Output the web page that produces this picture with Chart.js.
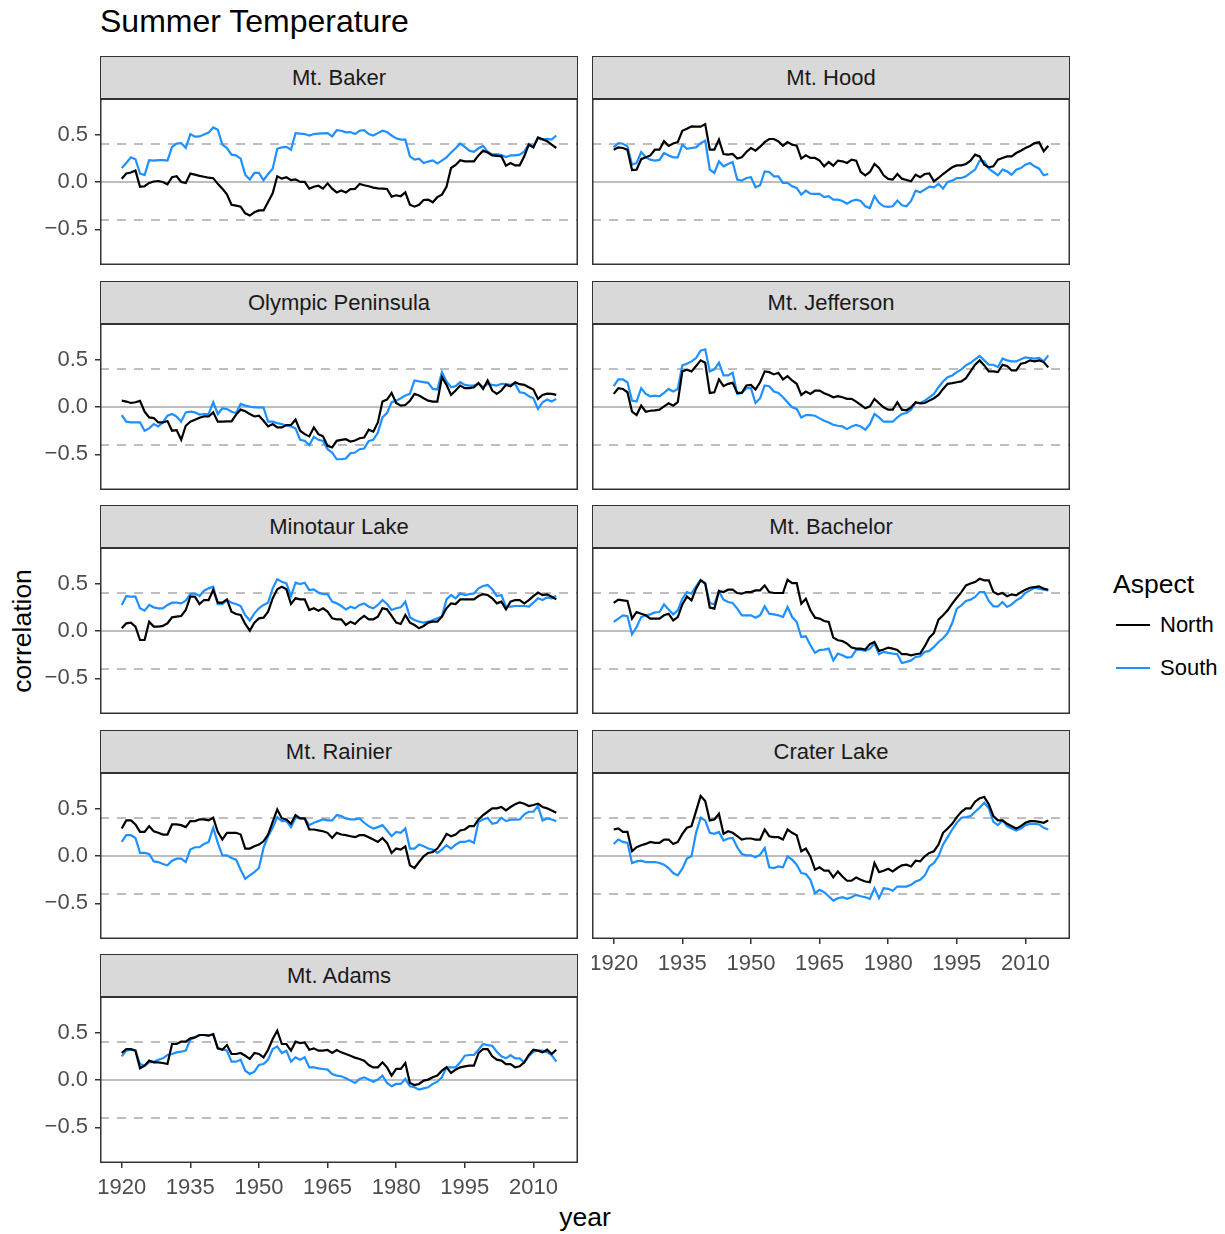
<!DOCTYPE html>
<html>
<head>
<meta charset="utf-8">
<script src="https://cdn.jsdelivr.net/npm/chart.js@4.4.0/dist/chart.umd.min.js"></script>
<style>
  body { margin: 0; background: #fff; font-family: "Liberation Sans", Arial, sans-serif; }
  #page { position: relative; width: 1225px; height: 1234px; overflow: hidden; background: #fff; }
  .strip { position: absolute; box-sizing: border-box; background: #D9D9D9; border: 1.5px solid #333333;
           color: #1A1A1A; font-size: 22px; text-align: center; line-height: 41px; white-space: nowrap; }
  canvas { position: absolute; }
  .title { position: absolute; left: 100px; top: 2px; font-size: 32px; line-height: 38px; color: #000; white-space: nowrap; }
  .ytitle { position: absolute; left: 22px; top: 631px; font-size: 26.5px; color: #000; white-space: nowrap;
            transform: translate(-50%, -50%) rotate(-90deg); }
  .xtitle { position: absolute; left: 585px; top: 1217px; font-size: 26.5px; color: #000; white-space: nowrap;
            transform: translate(-50%, -50%); }
  .lgTitle { position: absolute; left: 1113px; top: 584px; font-size: 26.5px; color: #000; transform: translateY(-50%); white-space: nowrap; }
  .lgKey { position: absolute; left: 1116px; width: 34px; height: 2px; }
  .lgLabel { position: absolute; left: 1160px; font-size: 22px; color: #000; transform: translateY(-50%); white-space: nowrap; }
</style>
</head>
<body>
<div id="page">
  <div class="title">Summer Temperature</div>
  <div class="ytitle">correlation</div>
  <div class="xtitle">year</div>
  <div class="lgTitle">Aspect</div>
  <div class="lgKey" style="top:624px;background:#000000"></div>
  <div class="lgLabel" style="top:625px">North</div>
  <div class="lgKey" style="top:667px;background:#1E90FF"></div>
  <div class="lgLabel" style="top:668px">South</div>
</div>
<script>
// ---- data -------------------------------------------------------------
const years = [1920,1921,1922,1923,1924,1925,1926,1927,1928,1929,1930,1931,1932,1933,1934,1935,1936,1937,1938,1939,
  1940,1941,1942,1943,1944,1945,1946,1947,1948,1949,1950,1951,1952,1953,1954,1955,1956,1957,1958,1959,
  1960,1961,1962,1963,1964,1965,1966,1967,1968,1969,1970,1971,1972,1973,1974,1975,1976,1977,1978,1979,
  1980,1981,1982,1983,1984,1985,1986,1987,1988,1989,1990,1991,1992,1993,1994,1995,1996,1997,1998,1999,
  2000,2001,2002,2003,2004,2005,2006,2007,2008,2009,2010,2011,2012,2013,2014,2015];

const panelNames = ["Mt. Baker", "Mt. Hood", "Olympic Peninsula", "Mt. Jefferson", "Minotaur Lake",
                    "Mt. Bachelor", "Mt. Rainier", "Crater Lake", "Mt. Adams"];
const aspects = ["North", "South"];
const yTicks = [-0.5, 0, 0.5];
const xTicks = [1920, 1935, 1950, 1965, 1980, 1995, 2010];
const refLevels = [0, 0.4, -0.4];

const bakerNorth = [0.035,0.09,0.10,0.12,-0.05,-0.045,-0.01,0.005,0.01,0.0,-0.025,0.05,0.06,0.0,-0.01,0.088,0.078,0.065,0.055,0.045,
  0.04,-0.02,-0.07,-0.13,-0.24,-0.25,-0.26,-0.33,-0.354,-0.32,-0.30,-0.30,-0.21,-0.12,0.06,0.035,0.05,0.02,0.028,0.0,
  0.0,-0.07,-0.05,-0.04,-0.07,-0.015,-0.07,-0.11,-0.09,-0.11,-0.075,-0.074,-0.022,-0.035,-0.045,-0.06,-0.068,-0.07,-0.074,-0.154,
  -0.14,-0.15,-0.11,-0.24,-0.26,-0.24,-0.19,-0.186,-0.214,-0.16,-0.133,-0.05,0.147,0.18,0.23,0.218,0.218,0.218,0.28,0.33,
  0.31,0.28,0.275,0.27,0.172,0.2,0.175,0.175,0.27,0.393,0.365,0.47,0.45,0.43,0.393,0.358];
const bakerSouth = [0.147,0.20,0.26,0.24,0.09,0.072,0.23,0.225,0.23,0.23,0.225,0.37,0.405,0.41,0.36,0.505,0.477,0.48,0.50,0.52,
  0.575,0.55,0.393,0.358,0.288,0.28,0.245,0.077,0.025,0.095,0.095,0.018,0.084,0.14,0.35,0.365,0.37,0.34,0.515,0.51,
  0.505,0.49,0.505,0.51,0.512,0.515,0.48,0.545,0.54,0.523,0.526,0.505,0.54,0.547,0.505,0.49,0.515,0.54,0.526,0.49,
  0.46,0.446,0.446,0.27,0.235,0.246,0.2,0.215,0.228,0.195,0.225,0.26,0.31,0.355,0.405,0.37,0.33,0.318,0.355,0.38,
  0.32,0.29,0.293,0.283,0.262,0.28,0.28,0.288,0.32,0.4,0.375,0.46,0.446,0.455,0.446,0.49];

const hoodNorth = [0.34,0.365,0.358,0.34,0.125,0.13,0.24,0.26,0.28,0.34,0.34,0.43,0.38,0.405,0.42,0.54,0.56,0.585,0.583,0.583,
  0.61,0.34,0.34,0.446,0.295,0.288,0.295,0.246,0.26,0.316,0.358,0.33,0.372,0.42,0.453,0.453,0.428,0.382,0.42,0.393,
  0.382,0.246,0.28,0.253,0.253,0.225,0.165,0.21,0.172,0.225,0.218,0.2,0.235,0.225,0.105,0.07,0.105,0.19,0.147,0.07,
  0.032,0.025,0.084,0.035,0.021,0.007,0.077,0.05,0.084,0.09,0.007,0.042,0.084,0.12,0.155,0.175,0.175,0.19,0.225,0.288,
  0.27,0.182,0.155,0.165,0.235,0.253,0.27,0.27,0.305,0.33,0.358,0.38,0.41,0.418,0.323,0.382];
const hoodSouth = [0.365,0.41,0.403,0.375,0.182,0.2,0.316,0.26,0.235,0.225,0.232,0.305,0.28,0.26,0.26,0.393,0.35,0.358,0.365,0.41,
  0.435,0.13,0.095,0.218,0.165,0.19,0.21,0.025,0.014,0.042,0.05,-0.056,-0.035,0.112,0.105,0.06,0.06,-0.01,-0.01,-0.046,
  -0.063,-0.133,-0.091,-0.123,-0.126,-0.126,-0.16,-0.15,-0.186,-0.186,-0.2,-0.23,-0.2,-0.186,-0.2,-0.256,-0.274,-0.15,-0.22,-0.256,
  -0.263,-0.256,-0.196,-0.245,-0.256,-0.2,-0.091,-0.109,-0.081,-0.049,-0.056,-0.021,-0.07,0,0.014,0.042,0.042,0.06,0.095,0.13,
  0.225,0.218,0.14,0.105,0.07,0.13,0.112,0.077,0.13,0.147,0.182,0.2,0.165,0.14,0.07,0.084];

const olympicNorth = [0.067,0.057,0.042,0.05,0.064,-0.05,-0.11,-0.117,-0.163,-0.163,-0.148,-0.25,-0.244,-0.346,-0.198,-0.155,-0.134,-0.113,-0.1,-0.1,
  -0.057,-0.155,-0.155,-0.152,-0.152,-0.08,-0.028,-0.046,-0.074,-0.1,-0.092,-0.145,-0.205,-0.18,-0.216,-0.216,-0.19,-0.19,-0.134,-0.25,
  -0.286,-0.31,-0.216,-0.286,-0.31,-0.41,-0.427,-0.357,-0.346,-0.34,-0.364,-0.353,-0.33,-0.322,-0.24,-0.26,-0.163,0.057,0.078,0.148,
  0.042,0.014,0.021,0.064,0.138,0.12,0.092,0.067,0.057,0.057,0.314,0.233,0.127,0.173,0.226,0.198,0.198,0.208,0.254,0.19,
  0.279,0.173,0.138,0.173,0.233,0.219,0.261,0.24,0.233,0.208,0.184,0.085,0.127,0.141,0.138,0.127];
const olympicSouth = [-0.085,-0.155,-0.163,-0.163,-0.163,-0.25,-0.226,-0.18,-0.205,-0.163,-0.092,-0.074,-0.102,-0.155,-0.057,-0.05,-0.057,-0.08,-0.074,-0.074,
  0.05,-0.074,-0.014,-0.021,-0.05,-0.064,0.032,0.014,0.004,-0.004,-0.004,-0.007,-0.155,-0.155,-0.17,-0.18,-0.198,-0.205,-0.226,-0.346,
  -0.357,-0.403,-0.314,-0.346,-0.357,-0.445,-0.48,-0.551,-0.551,-0.544,-0.488,-0.48,-0.445,-0.438,-0.357,-0.346,-0.27,-0.11,-0.064,0.05,
  0.067,0.092,0.12,0.138,0.279,0.269,0.261,0.254,0.19,0.184,0.367,0.269,0.208,0.219,0.261,0.233,0.226,0.226,0.244,0.208,
  0.244,0.233,0.226,0.244,0.24,0.233,0.244,0.155,0.148,0.113,0.092,-0.021,0.05,0.078,0.057,0.085];

const jeffersonNorth = [0.138,0.198,0.19,0.155,-0.05,-0.085,0.014,-0.05,-0.04,-0.035,-0.028,0.007,0.039,0.014,0.05,0.375,0.392,0.375,0.431,0.491,
  0.466,0.148,0.155,0.29,0.219,0.244,0.254,0.148,0.148,0.226,0.233,0.184,0.261,0.375,0.367,0.343,0.36,0.29,0.325,0.279,
  0.244,0.127,0.163,0.138,0.173,0.173,0.145,0.127,0.102,0.113,0.102,0.085,0.085,0.057,0.021,-0.014,0.007,0.085,0.039,-0.004,
  -0.028,-0.028,0.05,-0.028,-0.035,-0.004,0.05,0.039,0.042,0.067,0.092,0.127,0.19,0.244,0.251,0.261,0.269,0.304,0.375,0.445,
  0.491,0.438,0.375,0.375,0.367,0.445,0.431,0.385,0.385,0.456,0.466,0.491,0.48,0.491,0.473,0.417];
const jeffersonSouth = [0.219,0.29,0.29,0.261,0.067,0.057,0.198,0.138,0.113,0.12,0.113,0.148,0.19,0.163,0.19,0.438,0.456,0.48,0.516,0.594,
  0.608,0.375,0.396,0.466,0.332,0.332,0.36,0.138,0.148,0.198,0.198,0.042,0.092,0.226,0.219,0.163,0.148,0.102,0.05,-0.004,
  -0.021,-0.11,-0.085,-0.085,-0.092,-0.12,-0.145,-0.163,-0.187,-0.198,-0.205,-0.233,-0.205,-0.19,-0.205,-0.24,-0.18,-0.074,-0.11,-0.155,
  -0.155,-0.155,-0.11,-0.074,-0.064,-0.028,0.042,0.042,0.067,0.102,0.138,0.208,0.269,0.314,0.332,0.367,0.396,0.438,0.466,0.502,
  0.537,0.491,0.445,0.445,0.42,0.509,0.491,0.48,0.48,0.502,0.523,0.516,0.509,0.516,0.48,0.544];

const minotaurNorth = [0.028,0.081,0.088,0.046,-0.095,-0.095,0.098,0.046,0.046,0.053,0.081,0.144,0.151,0.158,0.221,0.361,0.361,0.284,0.326,0.326,
  0.432,0.298,0.298,0.333,0.204,0.179,0.168,0.074,0.004,0.088,0.133,0.14,0.204,0.344,0.439,0.467,0.439,0.284,0.344,0.333,
  0.333,0.221,0.239,0.214,0.239,0.204,0.133,0.123,0.123,0.063,0.098,0.074,0.123,0.158,0.123,0.123,0.151,0.239,0.228,0.158,
  0.088,0.074,0.168,0.088,0.063,0.028,0.053,0.088,0.098,0.098,0.151,0.239,0.291,0.284,0.333,0.333,0.333,0.333,0.368,0.389,
  0.379,0.344,0.291,0.309,0.228,0.309,0.326,0.326,0.291,0.326,0.368,0.404,0.379,0.386,0.361,0.333];
const minotaurSouth = [0.274,0.368,0.361,0.361,0.239,0.214,0.274,0.249,0.239,0.239,0.274,0.298,0.298,0.291,0.319,0.389,0.396,0.368,0.425,0.449,
  0.467,0.284,0.284,0.326,0.298,0.284,0.263,0.168,0.109,0.186,0.239,0.274,0.298,0.449,0.544,0.519,0.502,0.368,0.509,0.495,
  0.509,0.432,0.439,0.404,0.389,0.389,0.309,0.291,0.263,0.228,0.256,0.239,0.274,0.291,0.256,0.239,0.274,0.326,0.284,0.221,
  0.239,0.249,0.309,0.144,0.116,0.098,0.088,0.098,0.116,0.133,0.151,0.333,0.379,0.344,0.396,0.379,0.389,0.396,0.449,0.474,
  0.484,0.439,0.368,0.379,0.256,0.256,0.263,0.263,0.263,0.256,0.298,0.344,0.326,0.354,0.344,0.368];

const bachelorNorth = [0.295,0.33,0.323,0.316,0.13,0.2,0.182,0.165,0.13,0.13,0.13,0.165,0.182,0.112,0.147,0.28,0.365,0.323,0.446,0.533,
  0.5,0.246,0.235,0.42,0.41,0.435,0.435,0.4,0.393,0.41,0.41,0.428,0.428,0.48,0.41,0.4,0.4,0.4,0.54,0.505,
  0.505,0.288,0.34,0.218,0.14,0.13,0.105,0.095,-0.07,-0.098,-0.105,-0.133,-0.175,-0.186,-0.186,-0.196,-0.14,-0.116,-0.21,-0.196,
  -0.175,-0.186,-0.2,-0.245,-0.245,-0.256,-0.245,-0.238,-0.16,-0.07,-0.021,0.12,0.165,0.218,0.288,0.35,0.41,0.48,0.5,0.515,
  0.55,0.533,0.533,0.41,0.386,0.4,0.365,0.386,0.375,0.41,0.435,0.456,0.463,0.47,0.446,0.435];
const bachelorSouth = [0.095,0.13,0.165,0.155,-0.035,0.042,0.147,0.165,0.175,0.196,0.2,0.28,0.225,0.175,0.218,0.34,0.41,0.393,0.47,0.54,
  0.505,0.295,0.28,0.42,0.33,0.305,0.295,0.235,0.165,0.165,0.165,0.14,0.165,0.26,0.182,0.175,0.165,0.147,0.253,0.147,
  0.095,-0.063,-0.056,-0.15,-0.23,-0.2,-0.196,-0.186,-0.31,-0.238,-0.256,-0.28,-0.274,-0.2,-0.2,-0.21,-0.186,-0.133,-0.245,-0.22,
  -0.23,-0.238,-0.245,-0.337,-0.326,-0.31,-0.274,-0.267,-0.22,-0.21,-0.168,-0.116,-0.077,-0.021,0.084,0.235,0.27,0.316,0.33,0.358,
  0.41,0.41,0.316,0.26,0.26,0.305,0.253,0.28,0.323,0.35,0.4,0.428,0.456,0.446,0.435,0.428];

const rainierNorth = [0.29,0.375,0.375,0.332,0.254,0.254,0.314,0.261,0.244,0.226,0.226,0.332,0.332,0.325,0.304,0.367,0.367,0.385,0.385,0.375,
  0.403,0.254,0.173,0.244,0.244,0.244,0.226,0.078,0.078,0.102,0.12,0.155,0.226,0.36,0.491,0.396,0.385,0.339,0.431,0.396,
  0.396,0.279,0.279,0.269,0.261,0.244,0.19,0.244,0.226,0.219,0.208,0.198,0.219,0.219,0.198,0.173,0.148,0.19,0.138,0.032,
  0.078,0.067,0.102,-0.099,-0.127,-0.064,-0.004,0.032,0.042,0.078,0.148,0.233,0.208,0.226,0.269,0.279,0.314,0.314,0.385,0.431,
  0.466,0.502,0.502,0.516,0.48,0.516,0.544,0.565,0.551,0.526,0.537,0.551,0.516,0.502,0.48,0.456];
const rainierSouth = [0.148,0.219,0.219,0.19,0.032,0.032,0.021,-0.057,-0.064,-0.085,-0.099,-0.05,-0.028,-0.028,-0.064,0.067,0.092,0.092,0.127,0.148,
  0.297,0.138,0.007,0.007,-0.021,-0.039,-0.145,-0.24,-0.205,-0.17,-0.127,0.085,0.208,0.297,0.41,0.367,0.367,0.304,0.403,0.396,
  0.396,0.325,0.35,0.367,0.385,0.375,0.375,0.431,0.42,0.396,0.385,0.385,0.396,0.35,0.314,0.29,0.304,0.325,0.269,0.208,
  0.254,0.244,0.29,0.078,0.078,0.12,0.102,0.078,0.067,0.032,0.067,0.113,0.078,0.12,0.148,0.148,0.163,0.138,0.36,0.385,
  0.403,0.339,0.35,0.403,0.367,0.382,0.382,0.385,0.438,0.466,0.466,0.526,0.375,0.396,0.385,0.367];

const craterNorth = [0.279,0.29,0.254,0.254,0.05,0.092,0.113,0.127,0.148,0.138,0.138,0.173,0.173,0.127,0.148,0.233,0.297,0.314,0.473,0.632,
  0.58,0.375,0.385,0.445,0.233,0.261,0.244,0.208,0.173,0.184,0.184,0.173,0.173,0.279,0.208,0.198,0.198,0.173,0.279,0.244,
  0.219,0.05,0.078,-0.004,-0.145,-0.12,-0.155,-0.155,-0.226,-0.163,-0.216,-0.261,-0.261,-0.226,-0.251,-0.269,-0.276,-0.074,-0.17,-0.155,
  -0.134,-0.163,-0.127,-0.099,-0.092,-0.11,-0.05,-0.057,-0.004,0.032,0.05,0.12,0.244,0.29,0.339,0.41,0.466,0.502,0.502,0.572,
  0.608,0.622,0.544,0.42,0.375,0.375,0.339,0.314,0.29,0.314,0.35,0.367,0.367,0.36,0.35,0.375];
const craterSouth = [0.127,0.173,0.148,0.138,-0.074,-0.057,-0.05,-0.064,-0.064,-0.064,-0.074,-0.092,-0.127,-0.18,-0.205,-0.134,-0.028,-0.004,0.244,0.403,
  0.375,0.244,0.233,0.254,0.163,0.184,0.19,0.092,0.021,0.007,0.007,-0.014,0.014,0.085,-0.12,-0.127,-0.11,-0.12,-0.004,-0.039,
  -0.092,-0.18,-0.19,-0.251,-0.392,-0.357,-0.382,-0.424,-0.47,-0.445,-0.435,-0.452,-0.435,-0.41,-0.424,-0.435,-0.452,-0.339,-0.445,-0.339,
  -0.346,-0.367,-0.322,-0.322,-0.322,-0.304,-0.269,-0.251,-0.205,-0.11,-0.074,-0.004,0.12,0.198,0.279,0.35,0.403,0.41,0.42,0.466,
  0.509,0.562,0.502,0.36,0.325,0.375,0.314,0.29,0.269,0.29,0.325,0.339,0.339,0.332,0.297,0.279];

const adamsNorth = [0.284,0.326,0.326,0.309,0.123,0.151,0.204,0.186,0.186,0.179,0.168,0.379,0.379,0.404,0.404,0.439,0.449,0.474,0.474,0.467,
  0.484,0.333,0.319,0.368,0.274,0.274,0.284,0.256,0.221,0.284,0.274,0.239,0.319,0.432,0.519,0.379,0.379,0.309,0.404,0.389,
  0.396,0.319,0.333,0.309,0.309,0.316,0.284,0.316,0.291,0.274,0.256,0.235,0.221,0.204,0.158,0.133,0.133,0.186,0.133,0.046,
  0.116,0.116,0.179,-0.032,-0.053,-0.042,-0.007,0.004,0.028,0.046,0.098,0.133,0.074,0.109,0.133,0.144,0.151,0.151,0.284,0.326,
  0.326,0.249,0.214,0.204,0.168,0.168,0.133,0.144,0.186,0.263,0.319,0.309,0.291,0.319,0.274,0.319];
const adamsSouth = [0.249,0.309,0.319,0.309,0.168,0.151,0.186,0.193,0.214,0.228,0.263,0.274,0.291,0.298,0.309,0.425,0.449,0.474,0.474,0.467,
  0.484,0.333,0.326,0.309,0.193,0.193,0.214,0.098,0.063,0.088,0.158,0.168,0.214,0.326,0.354,0.284,0.309,0.193,0.239,0.214,
  0.239,0.133,0.133,0.123,0.116,0.109,0.063,0.046,0.039,0.018,-0.007,-0.032,0.011,0.028,0.004,-0.018,0.004,0.046,-0.032,-0.067,
  -0.042,-0.042,0.011,-0.067,-0.077,-0.102,-0.088,-0.077,-0.042,-0.018,0.028,0.133,0.133,0.133,0.186,0.256,0.263,0.263,0.319,0.379,
  0.368,0.361,0.298,0.249,0.228,0.263,0.228,0.228,0.186,0.249,0.298,0.309,0.309,0.291,0.263,0.193];

const northSeries = [bakerNorth, hoodNorth, olympicNorth, jeffersonNorth, minotaurNorth, bachelorNorth, rainierNorth, craterNorth, adamsNorth];
const southSeries = [bakerSouth, hoodSouth, olympicSouth, jeffersonSouth, minotaurSouth, bachelorSouth, rainierSouth, craterSouth, adamsSouth];

// ---- layout & style ---------------------------------------------------
const FONT = "'Liberation Sans', Arial, sans-serif";
const colLeft = [100, 592];
const panelW = 478, stripH = 42, plotH = 167, rowPitch = 224.5, firstTop = 56;
const yAxisW = 60, xAxisH = 46;
const aspectColor = { North: "#000000", South: "#1E90FF" };
const refStyle = { "0": [], "0.4": [9, 8], "-0.4": [9, 8] };

const page = document.getElementById("page");

// horizontal reference lines behind the series, panel frame on top
const panelFrame = {
  id: "panelFrame",
  beforeDatasetsDraw(chart) {
    const { ctx, chartArea: a, scales: { y } } = chart;
    ctx.save();
    ctx.beginPath();
    ctx.rect(a.left, a.top, a.right - a.left, a.bottom - a.top);
    ctx.clip();
    ctx.strokeStyle = "#BEBEBE";
    ctx.lineWidth = 2;
    refLevels.forEach(v => {
      const py = Math.round(y.getPixelForValue(v));
      ctx.setLineDash(refStyle[String(v)]);
      ctx.beginPath();
      ctx.moveTo(a.left, py);
      ctx.lineTo(a.right, py);
      ctx.stroke();
    });
    ctx.restore();
  },
  afterDraw(chart) {
    const { ctx, chartArea: a } = chart;
    ctx.save();
    ctx.strokeStyle = "#333333";
    ctx.lineWidth = 1.5;
    ctx.strokeRect(a.left + 0.75, a.top + 0.75, a.right - a.left - 1.5, a.bottom - a.top - 1.5);
    ctx.restore();
  }
};

const fmtY = v => (v < 0 ? "\u2212" : "") + Math.abs(v).toFixed(1);

panelNames.forEach((name, p) => {
  const col = p % 2, row = Math.floor(p / 2);
  const stripTop = Math.round(firstTop + rowPitch * row);
  const plotTop = stripTop + stripH;
  const showY = col === 0;
  const showX = p === 7 || p === 8;

  const strip = document.createElement("div");
  strip.className = "strip";
  strip.textContent = name;
  strip.style.left = colLeft[col] + "px";
  strip.style.top = stripTop + "px";
  strip.style.width = panelW + "px";
  strip.style.height = (stripH + 1.5) + "px";
  page.appendChild(strip);

  const cv = document.createElement("canvas");
  const cw = panelW + (showY ? yAxisW : 0);
  const ch = plotH + (showX ? xAxisH : 0);
  cv.width = cw; cv.height = ch;
  cv.style.width = cw + "px"; cv.style.height = ch + "px";
  cv.style.left = (colLeft[col] - (showY ? yAxisW : 0)) + "px";
  cv.style.top = plotTop + "px";
  page.appendChild(cv);

  const series = { North: northSeries[p], South: southSeries[p] };

  new Chart(cv, {
    type: "line",
    data: {
      datasets: aspects.map(a => ({
        label: a,
        data: series[a].map((v, i) => ({ x: years[i], y: v })),
        borderColor: aspectColor[a],
        borderWidth: 2.2,
        pointRadius: 0,
        tension: 0,
        fill: false
      }))
    },
    options: {
      responsive: false,
      animation: false,
      devicePixelRatio: 1,
      layout: { padding: 0 },
      plugins: { legend: { display: false }, tooltip: { enabled: false }, title: { display: false } },
      scales: {
        x: {
          type: "linear",
          min: 1915.25, max: 2019.75,
          display: showX,
          afterBuildTicks: s => { s.ticks = xTicks.map(v => ({ value: v })); },
          afterFit: s => {
            s.height = showX ? xAxisH : 0;
            s.paddingLeft = 0; s.paddingRight = 0;
          },
          grid: { display: true, drawOnChartArea: false, drawTicks: true, tickLength: 5, color: "#333333", lineWidth: 1.5 },
          border: { display: false },
          ticks: { color: "#4D4D4D", font: { family: FONT, size: 22 }, padding: 7, maxRotation: 0, autoSkip: false,
                   callback: v => String(v) }
        },
        y: {
          type: "linear",
          min: -0.875, max: 0.885,
          display: showY,
          afterBuildTicks: s => { s.ticks = yTicks.map(v => ({ value: v })); },
          afterFit: s => {
            s.width = showY ? yAxisW : 0;
            s.paddingTop = 0; s.paddingBottom = 0;
          },
          grid: { display: true, drawOnChartArea: false, drawTicks: true, tickLength: 5, color: "#333333", lineWidth: 1.5 },
          border: { display: false },
          ticks: { color: "#4D4D4D", font: { family: FONT, size: 22 }, padding: 7, autoSkip: false,
                   callback: v => fmtY(v) }
        }
      }
    },
    plugins: [panelFrame]
  });
});
</script>
</body>
</html>
